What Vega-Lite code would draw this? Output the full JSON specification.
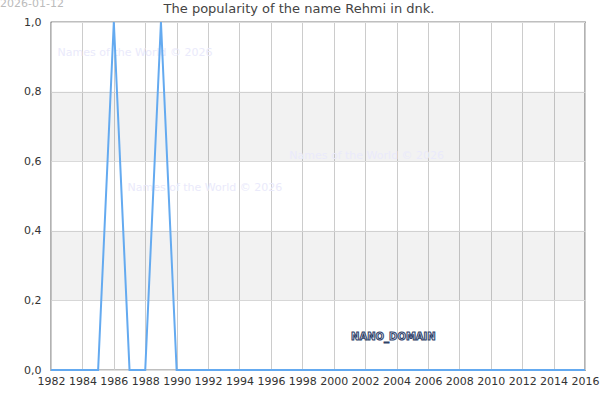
{
  "$schema": "https://vega.github.io/schema/vega-lite/v6.json",
  "width": 534,
  "height": 348,
  "autosize": {"type": "none"},
  "padding": {"left": 51, "top": 22, "right": 15, "bottom": 30},
  "title": {
    "text": "The popularity of the name Rehmi in dnk.",
    "frame": "group",
    "anchor": "middle",
    "dx": -19,
    "fontSize": 13,
    "fontWeight": "normal",
    "font": "DejaVu Sans",
    "color": "#444444",
    "offset": -18
  },
  "config": {
    "view": {"stroke": "#000000", "strokeWidth": 1.2},
    "font": "DejaVu Sans",
    "axis": {"labelOverlap": false, "labelFlush": false, "labelBound": false}
  },
  "datasets": {
    "names": [
      {"year": 1982, "value": 0}, {"year": 1983, "value": 0}, {"year": 1984, "value": 0},
      {"year": 1985, "value": 0}, {"year": 1986, "value": 1}, {"year": 1987, "value": 0},
      {"year": 1988, "value": 0}, {"year": 1989, "value": 1}, {"year": 1990, "value": 0},
      {"year": 1991, "value": 0}, {"year": 1992, "value": 0}, {"year": 1993, "value": 0},
      {"year": 1994, "value": 0}, {"year": 1995, "value": 0}, {"year": 1996, "value": 0},
      {"year": 1997, "value": 0}, {"year": 1998, "value": 0}, {"year": 1999, "value": 0},
      {"year": 2000, "value": 0}, {"year": 2001, "value": 0}, {"year": 2002, "value": 0},
      {"year": 2003, "value": 0}, {"year": 2004, "value": 0}, {"year": 2005, "value": 0},
      {"year": 2006, "value": 0}, {"year": 2007, "value": 0}, {"year": 2008, "value": 0},
      {"year": 2009, "value": 0}, {"year": 2010, "value": 0}, {"year": 2011, "value": 0},
      {"year": 2012, "value": 0}, {"year": 2013, "value": 0}, {"year": 2014, "value": 0},
      {"year": 2015, "value": 0}, {"year": 2016, "value": 0}
    ],
    "bands": [
      {"lo": 0.2, "hi": 0.4},
      {"lo": 0.6, "hi": 0.8}
    ],
    "marks": [
      {"year": 1987.35, "value": 0.911, "label": "Names of the World © 2026"},
      {"year": 2002.1, "value": 0.615, "label": "Names of the World © 2026"},
      {"year": 1991.8, "value": 0.523, "label": "Names of the World © 2026"}
    ],
    "stamp": [
      {"year": 1978.75, "value": 1.052, "label": "2026-01-12"}
    ],
    "brand": [
      {"year": 2003.8, "value": 0.095, "label": "NANO_DOMAIN"}
    ]
  },
  "layer": [
    {
      "data": {"name": "bands"},
      "mark": {"type": "rect", "color": "#000000", "opacity": 0.05},
      "encoding": {
        "y": {"field": "lo", "type": "quantitative", "scale": {"domain": [0, 1], "nice": false}},
        "y2": {"field": "hi"}
      }
    },
    {
      "data": {"name": "marks"},
      "mark": {"type": "text", "fontSize": 11, "color": "#eaeafb", "align": "center", "baseline": "middle"},
      "encoding": {
        "x": {"field": "year", "type": "quantitative"},
        "y": {"field": "value", "type": "quantitative"},
        "text": {"field": "label"}
      }
    },
    {
      "data": {"name": "names"},
      "mark": {"type": "line", "color": "#64aaf0", "strokeWidth": 2},
      "encoding": {
        "x": {
          "field": "year",
          "type": "quantitative",
          "scale": {"domain": [1982, 2016], "nice": false, "zero": false},
          "axis": {
            "title": null,
            "values": [1982, 1984, 1986, 1988, 1990, 1992, 1994, 1996, 1998, 2000, 2002, 2004, 2006, 2008, 2010, 2012, 2014, 2016],
            "tickCount": 40,
            "format": "d",
            "domain": false,
            "ticks": false,
            "labelPadding": 5,
            "labelFontSize": 11,
            "labelColor": "#333333",
            "labelFlush": false,
            "labelOverlap": false,
            "labelBound": false,
            "gridColor": "#cccccc",
            "gridWidth": 1
          }
        },
        "y": {
          "field": "value",
          "type": "quantitative",
          "scale": {"domain": [0, 1], "nice": false},
          "axis": {
            "title": null,
            "values": [0, 0.2, 0.4, 0.6, 0.8, 1],
            "tickCount": 20,
            "labelExpr": "replace(format(datum.value, '.1f'), '.', ',')",
            "domain": false,
            "ticks": false,
            "labelPadding": 10,
            "labelFontSize": 11,
            "labelColor": "#333333",
            "labelOverlap": false,
            "gridColor": "#dddddd",
            "gridWidth": 1
          }
        }
      }
    },
    {
      "data": {"name": "brand"},
      "mark": {"type": "text", "fontSize": 10, "fontWeight": "bold", "fill": "#e4e8f2", "stroke": "#2e3f68", "strokeWidth": 1, "align": "center", "baseline": "middle"},
      "encoding": {
        "x": {"field": "year", "type": "quantitative"},
        "y": {"field": "value", "type": "quantitative"},
        "text": {"field": "label"}
      }
    },
    {
      "data": {"name": "stamp"},
      "mark": {"type": "text", "fontSize": 11, "color": "#bbbbbb", "align": "left", "baseline": "middle"},
      "encoding": {
        "x": {"field": "year", "type": "quantitative"},
        "y": {"field": "value", "type": "quantitative"},
        "text": {"field": "label"}
      }
    }
  ]
}
